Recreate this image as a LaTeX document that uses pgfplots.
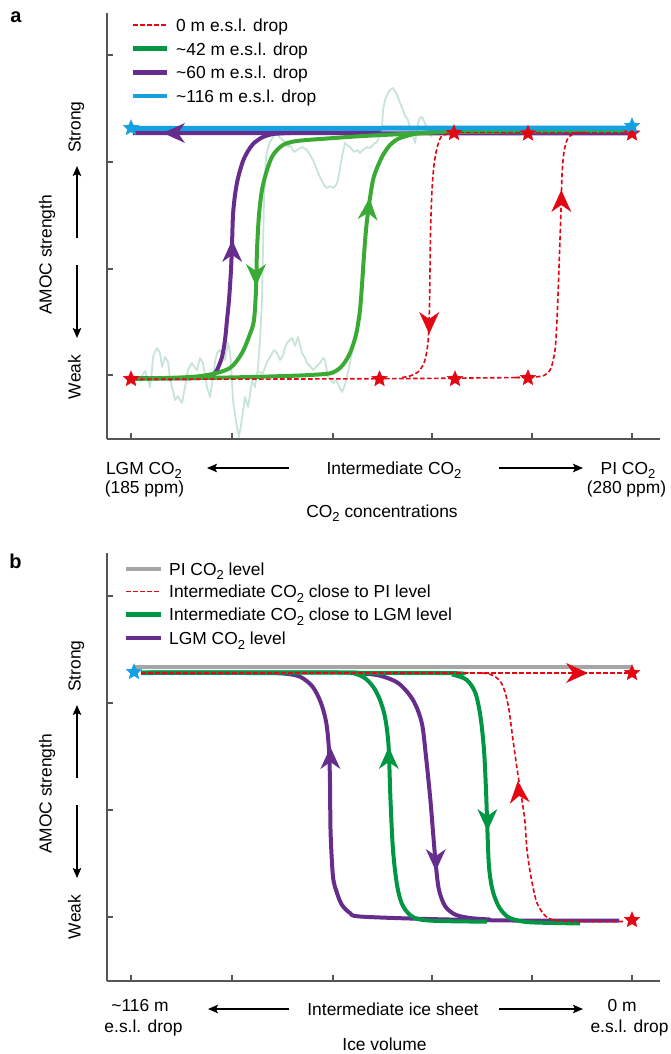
\documentclass[border=0pt]{standalone}
\usepackage{pgfplots}
\pgfplotsset{compat=1.18}
\usepackage{fontspec}
\setmainfont{Liberation Sans}
\usetikzlibrary{arrows.meta}
\definecolor{cRed}{RGB}{227,6,19}
\definecolor{cGreenA}{RGB}{58,170,53}
\definecolor{cGreenB}{RGB}{0,150,68}
\definecolor{cPurple}{RGB}{102,45,140}
\definecolor{cBlue}{RGB}{20,160,225}
\definecolor{cGrey}{RGB}{166,166,166}
\definecolor{cPale}{RGB}{200,228,214}
\definecolor{cAxis}{RGB}{85,85,85}
\newcommand{\Tf}{\fontsize{17.4}{20}\selectfont}
\newcommand{\two}{\raisebox{-4.5pt}{\fontsize{13}{13}\selectfont 2}}
\newcommand{\COt}{CO\two}
\pgfdeclareplotmark{fstar}{%
  \pgfpathmoveto{\pgfpointpolar{90}{\pgfplotmarksize}}%
  \pgfpathlineto{\pgfpointpolar{126}{0.45\pgfplotmarksize}}%
  \pgfpathlineto{\pgfpointpolar{162}{\pgfplotmarksize}}%
  \pgfpathlineto{\pgfpointpolar{198}{0.45\pgfplotmarksize}}%
  \pgfpathlineto{\pgfpointpolar{234}{\pgfplotmarksize}}%
  \pgfpathlineto{\pgfpointpolar{270}{0.45\pgfplotmarksize}}%
  \pgfpathlineto{\pgfpointpolar{306}{\pgfplotmarksize}}%
  \pgfpathlineto{\pgfpointpolar{342}{0.45\pgfplotmarksize}}%
  \pgfpathlineto{\pgfpointpolar{18}{\pgfplotmarksize}}%
  \pgfpathlineto{\pgfpointpolar{54}{0.45\pgfplotmarksize}}%
  \pgfpathclose
  \pgfusepathqfillstroke}
% arrowhead mark: tip at the data point, pointing along +x (rotate to orient)
\pgfdeclareplotmark{ahead}{%
  \pgfpathmoveto{\pgfqpoint{0pt}{0pt}}%
  \pgfpathlineto{\pgfqpoint{-22pt}{10pt}}%
  \pgfpathlineto{\pgfqpoint{-15pt}{0pt}}%
  \pgfpathlineto{\pgfqpoint{-22pt}{-10pt}}%
  \pgfpathclose
  \pgfusepathqfill}
\tikzset{
  reddash/.style={draw=cRed, line width=1.6pt, dash pattern=on 4.5pt off 2.5pt},
  harr/.style={line width=1.2pt, -{Stealth[length=10pt,width=8.5pt,inset=2pt]}},
}
\pgfplotsset{
  panel/.style={
    scale only axis, width=553pt, anchor=south west,
    xmin=107, xmax=660,
    axis x line*=bottom, axis y line*=left,
    axis line style={-, line width=1.6pt, draw=cAxis},
    xtick={131,232,333,432,532,632},
    xticklabels={}, yticklabels={},
    tick align=inside, major tick length=6pt,
    tick style={line width=1.1pt, draw=cAxis},
    clip=false,
  },
  head/.style 2 args={only marks, mark=ahead, mark options={solid, fill=#1, draw=none, rotate=#2}},
  redstar/.style={only marks, mark=fstar, mark size=8.3pt, mark options={fill=cRed, draw=cRed, line width=0.3pt, solid}},
  bluestar/.style={only marks, mark=fstar, mark size=8.3pt, mark options={fill=cBlue, draw=cBlue, line width=0.3pt, solid}},
}
\begin{document}
\begin{tikzpicture}
\useasboundingbox (0pt,0pt) rectangle (670pt,-1054pt);
% ================= panel a =================
\begin{axis}[panel, at={(107pt,-439pt)}, height=426pt,
  ymin=-439, ymax=-13, ytick={-375,-269,-162,-55}]
% pale noisy trace
\addplot[cPale, line width=1.8pt, line join=round] coordinates {
(137,-377) (140,-380) (143,-374) (145,-371) (148,-380) (150,-387) (152,-370) (153,-357) (155,-352) (157,-348) (160,-353) (162,-367) (165,-357) (168,-362) (170,-378) (172,-387) (175,-400) (178,-396) (180,-400) (182,-403) (185,-387) (188,-370) (190,-366) (192,-363) (195,-368) (197,-370) (200,-358) (203,-363) (205,-375) (207,-387) (210,-397) (213,-377) (215,-362) (217,-353) (220,-350) (223,-356) (225,-360) (228,-343) (230,-352) (231,-365) (233,-400) (235,-415) (237,-427) (239,-437) (241,-425) (242,-418) (245,-397) (248,-407) (250,-395) (252,-380) (255,-387) (258,-368) (260,-340) (262,-300) (263,-250) (264,-200) (266,-157) (268,-148) (270,-142) (273,-137) (277,-133) (280,-138) (283,-140) (285,-142) (288,-147) (290,-145) (294,-152) (297,-150) (302,-147) (307,-150) (310,-155) (313,-160) (317,-170) (320,-177) (324,-185) (327,-188) (330,-186) (333,-188) (336,-185) (338,-180) (340,-168) (342,-157) (345,-143) (348,-146) (350,-147) (354,-152) (357,-150) (360,-153) (363,-150) (367,-147) (370,-148) (374,-144) (377,-142) (380,-135) (382,-127) (383,-110) (385,-100) (388,-93) (390,-90) (393,-88) (396,-93) (398,-97) (400,-103) (403,-110) (405,-116) (408,-120) (410,-128) (412,-133) (415,-143) (417,-130) (418,-123) (420,-118) (422,-117) (425,-123) (428,-132) (432,-137)};
\addplot[cPale, line width=1.8pt, line join=round] coordinates {
(258,-372) (263,-373) (267,-362) (270,-357) (274,-350) (277,-353) (280,-360) (283,-356) (285,-348) (287,-343) (290,-340) (292,-338) (295,-346) (298,-337) (300,-345) (302,-353) (305,-358) (307,-363) (310,-366) (313,-370) (317,-366) (320,-363) (323,-358) (325,-360) (328,-377) (331,-380) (333,-383) (336,-380) (339,-386) (342,-392) (345,-385) (348,-372) (350,-363) (353,-347) (356,-335)};
% purple (~60 m)
\addplot[cPurple, line width=4pt] coordinates {(628,-133.5) (133,-133)};
\addplot[cPurple, line width=4pt, smooth] coordinates {
(133,-378) (170,-378.5) (200,-378) (208,-377) (213,-375) (217,-370) (222,-357) (225,-340) (227,-320) (229,-300) (231,-270) (232,-245) (233,-215) (235,-195) (238,-178) (243,-161) (248,-151) (253,-144) (258,-140) (263,-137) (273,-134) (290,-133)};
\addplot[head={cPurple}{180}] coordinates {(163,-133)};
\addplot[head={cPurple}{90}] coordinates {(232.2,-240)};
% green (~42 m)
\addplot[cGreenA, line width=4pt, smooth] coordinates {
(632,-131) (540,-131) (450,-131.7) (430,-132.7) (397,-134.3) (363,-136) (330,-138.3) (297,-141) (283,-145) (273,-155) (267,-170) (262,-190) (259,-215) (257,-250) (256,-290) (254,-320) (250,-334) (242,-353) (230,-368) (210,-374.5) (190,-377) (150,-378.5) (133,-379)};
\addplot[cGreenA, line width=4pt, smooth] coordinates {
(133,-378.5) (200,-378) (250,-377) (300,-375.5) (325,-374) (333,-372.5) (340,-368) (345,-362) (350,-353) (354,-342) (357,-330) (360,-310) (362,-285) (364,-255) (366,-230) (368,-212) (370,-198) (373,-180) (377,-168) (383,-155) (390,-145) (397,-139.5) (403,-137) (417,-133.5) (440,-132) (500,-131.5) (632,-131)};
\addplot[head={cGreenA}{-90}] coordinates {(256,-286)};
\addplot[head={cGreenA}{85}] coordinates {(369.5,-198)};
% red dashed (0 m)
\addplot[reddash] coordinates {(133,-379.3) (300,-379) (420,-378.5) (520,-377.5)};
\addplot[reddash] coordinates {(452,-132.5) (632,-132.5)};
\addplot[reddash, smooth] coordinates {
(455,-132.5) (447,-134) (441,-137) (437,-148) (434,-165) (432,-190) (430.5,-233) (429.6,-300) (428.5,-335) (427,-350) (424,-363) (418,-372) (410,-376) (400,-377.8)};
\addplot[reddash, smooth] coordinates {
(515,-377.5) (535,-377) (545,-375) (551,-368) (555,-350) (557,-320) (559,-267) (561,-210) (562,-175) (564,-152) (568,-138) (576,-133) (585,-132.5)};
\addplot[head={cRed}{-90}] coordinates {(429.2,-334)};
\addplot[head={cRed}{90}] coordinates {(561.3,-190)};
% blue (~116 m)
\addplot[cBlue, line width=5pt] coordinates {(131,-128.5) (632,-128)};
% stars
\addplot[redstar] coordinates {(131,-379) (379.5,-379) (455,-379) (528,-378) (454,-133) (528,-133.5) (632,-133.5)};
\addplot[bluestar] coordinates {(131,-128) (632,-126)};
\end{axis}
% ================= panel b =================
\begin{axis}[panel, at={(107pt,-981pt)}, height=428pt,
  ymin=-981, ymax=-553, ytick={-917,-810,-703,-596}]
% LGM CO2 level (purple)
\addplot[cPurple, line width=4pt, smooth] coordinates {
(141,-673) (250,-673) (283,-673.5) (300,-676.7) (312.6,-686.7) (321,-703) (326.3,-723) (329,-750) (330,-783) (330.6,-833) (333,-876.7) (337,-893) (342,-905) (350,-913) (360,-916.5) (428,-919) (514,-920.5) (619,-920.5)};
\addplot[cPurple, line width=4pt, smooth] coordinates {
(350,-673) (377,-675) (398,-683) (413,-700) (421.8,-723) (426,-756.7) (430.4,-800) (433.4,-836.7) (436,-866.7) (439,-890) (445,-906) (455,-914.5) (470,-918) (490,-919.5)};
\addplot[head={cPurple}{90}] coordinates {(330.4,-747)};
\addplot[head={cPurple}{-90}] coordinates {(435.8,-871)};
% intermediate CO2 close to LGM (green)
\addplot[cGreenB, line width=4pt, smooth] coordinates {
(141,-672.5) (340,-672.5) (356,-674) (366,-679) (374,-688) (380,-700) (385,-717) (388.5,-745) (390.5,-800) (393,-850) (397,-885) (402,-904) (410,-915) (420,-919.5) (440,-921) (487,-921.7)};
\addplot[cGreenB, line width=4pt, smooth] coordinates {
(141,-672.5) (440,-673) (454,-675) (466.8,-680) (475.4,-693) (480.5,-716.7) (484,-750) (486,-790) (487.4,-830) (489,-866.7) (492.5,-890) (499,-907) (508,-917) (520,-921) (535,-922.5) (580,-923.5)};
\addplot[head={cGreenB}{90}] coordinates {(388.8,-747)};
\addplot[head={cGreenB}{-90}] coordinates {(487.4,-831)};
% intermediate CO2 close to PI (red dashed)
\addplot[reddash] coordinates {(141,-673) (632,-673)};
\addplot[reddash, smooth] coordinates {
(482,-673) (492,-675) (500,-681) (505,-692) (509,-710) (513,-740) (518,-775) (522,-800) (525,-822) (527,-850) (531,-877) (537,-903) (546,-916.5) (557,-920.5) (580,-921.5) (625,-921.5)};
\addplot[head={cRed}{0}] coordinates {(588,-673)};
\addplot[head={cRed}{95}] coordinates {(517.8,-781)};
% PI CO2 level (grey)
\addplot[cGrey, line width=4pt] coordinates {(134,-667) (632,-667)};
% stars
\addplot[redstar] coordinates {(632,-673) (632,-920)};
\addplot[bluestar] coordinates {(134,-672)};
\end{axis}
% ================= labels and legends =================
\begin{scope}[x=1pt, y=-1pt, every node/.style={font=\Tf, inner sep=0pt}]
% panel a
\node[anchor=base, font=\bfseries\fontsize{20}{20}\selectfont] at (16,23) {a};
\draw[reddash] (133,25) -- (167,25);
\node[anchor=base west] at (176,31.5) {0 m e.s.l. drop};
\draw[cGreenB, line width=4.5pt] (133,48.7) -- (167,48.7);
\node[anchor=base west] at (176,55.2) {\textasciitilde 42 m e.s.l. drop};
\draw[cPurple, line width=4.5pt] (133,72.4) -- (167,72.4);
\node[anchor=base west] at (176,78.9) {\textasciitilde 60 m e.s.l. drop};
\draw[cBlue, line width=4.5pt] (133,96.1) -- (167,96.1);
\node[anchor=base west] at (176,102.6) {\textasciitilde 116 m e.s.l. drop};
\node[rotate=90, anchor=base] at (51.5,255) {AMOC strength};
\node[rotate=90, anchor=base] at (80.5,127) {Strong};
\node[rotate=90, anchor=base] at (80.5,377) {Weak};
\draw[harr] (77,238) -- (77,166);
\draw[harr] (77,265) -- (77,338);
\node[anchor=base] at (144,474.3) {LGM \COt};
\node[anchor=base] at (144.5,493.3) {(185 ppm)};
\node[anchor=base] at (394,474.3) {Intermediate \COt};
\node[anchor=base] at (628,474.3) {PI \COt};
\node[anchor=base] at (626.5,493.3) {(280 ppm)};
\node[anchor=base] at (382,517) {\COt\ concentrations};
\draw[harr] (289,468) -- (207,468);
\draw[harr] (499,468) -- (583,468);
% panel b
\node[anchor=base, font=\bfseries\fontsize{20}{20}\selectfont] at (15.6,568) {b};
\draw[cGrey, line width=4.5pt] (126,569) -- (161,569);
\node[anchor=base west] at (169,575.3) {PI \COt\ level};
\draw[reddash] (126,591.5) -- (161,591.5);
\node[anchor=base west] at (169,597.5) {Intermediate \COt\ close to PI level};
\draw[cGreenB, line width=4.5pt] (126,614.5) -- (161,614.5);
\node[anchor=base west] at (169,620.7) {Intermediate \COt\ close to LGM level};
\draw[cPurple, line width=4.5pt] (126,638) -- (161,638);
\node[anchor=base west] at (169,644.5) {LGM \COt\ level};
\node[rotate=90, anchor=base] at (51.5,794) {AMOC strength};
\node[rotate=90, anchor=base] at (80.5,666) {Strong};
\node[rotate=90, anchor=base] at (80.5,917) {Weak};
\draw[harr] (77,778) -- (77,705);
\draw[harr] (77,805) -- (77,878);
\node[anchor=base] at (140,1011) {\textasciitilde 116 m};
\node[anchor=base] at (143.5,1032.7) {e.s.l. drop};
\node[anchor=base] at (393,1015) {Intermediate ice sheet};
\node[anchor=base] at (622,1011) {0 m};
\node[anchor=base] at (629.5,1032.7) {e.s.l. drop};
\node[anchor=base] at (384.5,1050.5) {Ice volume};
\draw[harr] (289,1009) -- (208,1009);
\draw[harr] (499,1009) -- (583,1009);
\end{scope}
\end{tikzpicture}
\end{document}
